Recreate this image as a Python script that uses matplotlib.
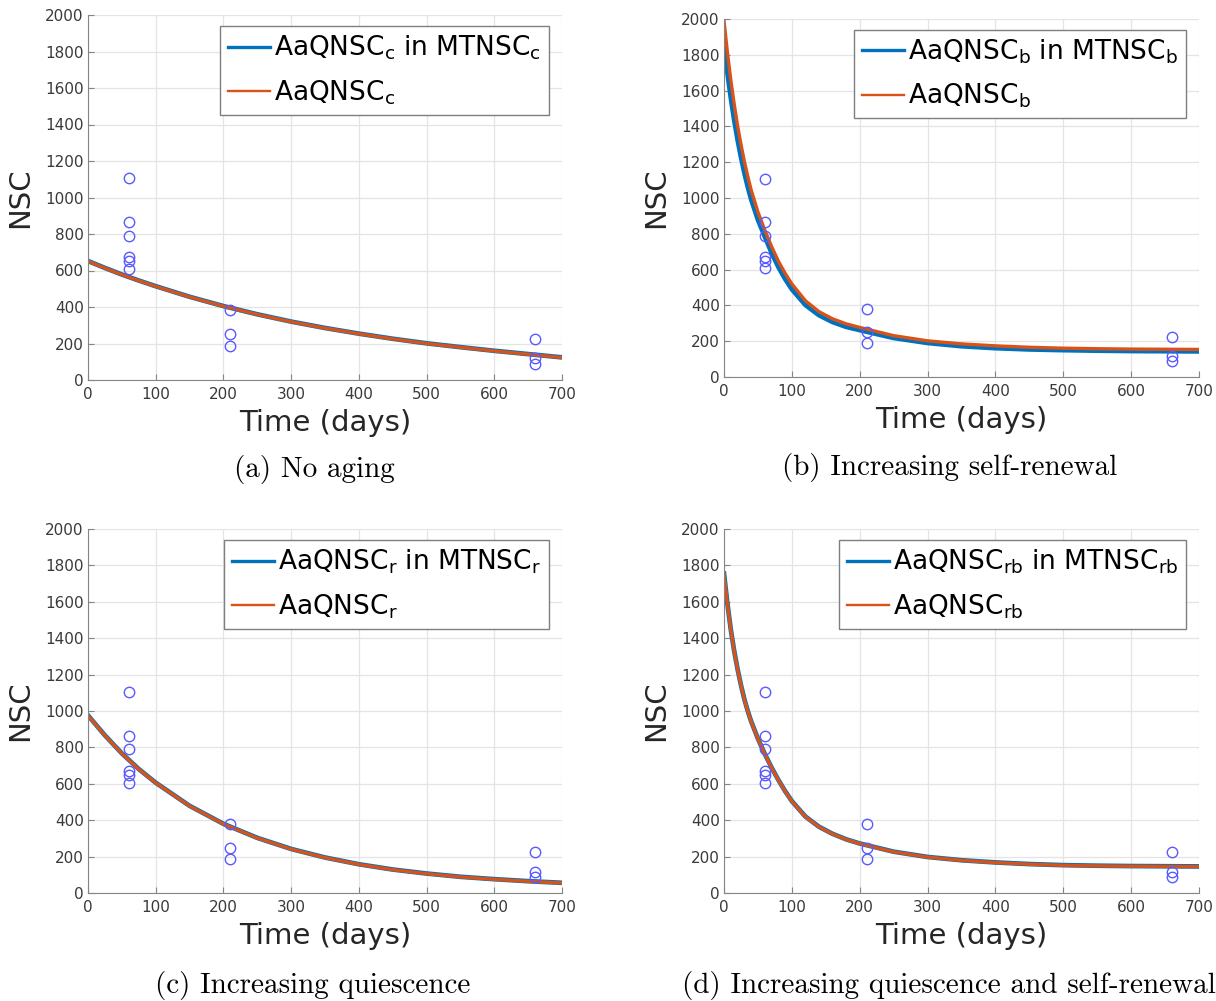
import matplotlib.pyplot as plt

plt.rcParams['font.family'] = 'DejaVu Sans'
plt.rcParams['mathtext.fontset'] = 'dejavusans'

BLUE = '#0072BD'
ORANGE = '#D95319'
DOT = '#5a5aff'

# measured cell counts (same in every panel)
obs_days = [60, 60, 60, 60, 60, 60, 210, 210, 210, 660, 660, 660]
obs_nsc = [1105, 865, 790, 672, 650, 607, 381, 250, 189, 225, 118, 89]

# (a) no aging
days_a = [0, 25, 50, 75, 100, 150, 200, 250, 300, 350, 400, 450, 500, 550, 600, 650, 700]
mt_a = [652, 614, 578, 545, 514, 456, 405, 360, 320, 285, 254, 226, 201, 180, 160, 142, 124]
aa_a = [651, 613, 577, 544, 513, 455, 404, 359, 319, 284, 253, 225, 200, 179, 159, 141, 123]

# (b) increasing self-renewal
days_b = [0, 5, 10, 15, 20, 25, 30, 35, 40, 50, 60, 70, 80, 90, 100, 120, 140, 160, 180, 200,
          250, 300, 350, 400, 450, 500, 550, 600, 650, 700]
mt_b = [1860, 1700, 1560, 1435, 1325, 1228, 1140, 1062, 992, 878, 785, 695, 615, 548, 490,
        402, 345, 307, 280, 262, 218, 190, 172, 161, 154, 150, 147, 145, 144, 143]
aa_b = [1990, 1815, 1660, 1525, 1405, 1300, 1205, 1122, 1045, 922, 822, 730, 648, 580, 520,
        426, 365, 325, 297, 277, 231, 202, 185, 174, 166, 161, 158, 156, 155, 154]

# (c) increasing quiescence
days_c = [0, 25, 50, 75, 100, 150, 200, 250, 300, 350, 400, 450, 500, 550, 600, 650, 700]
mt_c = [976, 866, 767, 681, 606, 479, 380, 303, 242, 195, 158, 129, 107, 89, 76, 65, 56]
aa_c = [975, 865, 766, 680, 605, 478, 379, 302, 241, 194, 157, 128, 106, 88, 75, 64, 55]

# (d) increasing quiescence and self-renewal
days_d = [0, 5, 10, 15, 20, 25, 30, 35, 40, 50, 60, 70, 80, 90, 100, 120, 140, 160, 180, 200,
          250, 300, 350, 400, 450, 500, 550, 600, 650, 700]
mt_d = [1755, 1590, 1448, 1330, 1230, 1142, 1065, 1000, 943, 848, 765, 690, 622, 560, 505,
        420, 364, 325, 295, 272, 227, 198, 180, 168, 159, 153, 150, 148, 147, 146]
aa_d = [1754, 1589, 1447, 1329, 1229, 1141, 1064, 999, 942, 847, 764, 689, 621, 559, 504,
        419, 363, 324, 294, 271, 226, 197, 179, 167, 158, 152, 149, 147, 146, 145]

subs = ['c', 'b', 'r', 'rb']
captions = ['(a) No aging', '(b) Increasing self-renewal',
            '(c) Increasing quiescence', '(d) Increasing quiescence and self-renewal']

W, H = 1216, 1001


def px_rect(x0, x1, ytop, ybot):
    return [x0 / W, 1 - ybot / H, (x1 - x0) / W, (ybot - ytop) / H]


def draw_panel(fig, rect, days, mt, aa, sub, caption, cap_xy):
    ax = fig.add_axes(rect)
    ax.plot(days, mt, color=BLUE, lw=3.4,
            label=rf'AaQNSC$_{{\mathregular{{{sub}}}}}$ in MTNSC$_{{\mathregular{{{sub}}}}}$')
    ax.plot(days, aa, color=ORANGE, lw=2.4,
            label=rf'AaQNSC$_{{\mathregular{{{sub}}}}}$')
    ax.plot(obs_days, obs_nsc, 'o', mfc='none', mec=DOT, ms=7.5, mew=1.0)

    ax.set_xlim(0, 700)
    ax.set_ylim(0, 2000)
    ax.set_xticks(range(0, 701, 100))
    ax.set_yticks(range(0, 2001, 200))
    ax.grid(True, color='#e4e4e4', lw=0.9)
    ax.set_axisbelow(True)
    for s in ['top', 'right']:
        ax.spines[s].set_visible(False)
    for s in ['left', 'bottom']:
        ax.spines[s].set_color('#858585')
    ax.tick_params(direction='in', length=4, color='#858585', labelsize=11,
                   labelcolor='#3a3a3a')
    ax.tick_params(axis='x', pad=5)
    ax.tick_params(axis='y', pad=3)
    ax.set_xlabel('Time (days)', fontsize=21, color='#262626', labelpad=5)
    ax.set_ylabel('NSC', fontsize=21, color='#262626', labelpad=8)

    leg = ax.legend(loc='upper right', bbox_to_anchor=(0.9726, 0.97), borderaxespad=0,
                    fontsize=19, fancybox=False, edgecolor='#7f7f7f', framealpha=1,
                    handlelength=1.6, handletextpad=0.15, borderpad=0.3, labelspacing=0.6)
    leg.get_frame().set_linewidth(1.0)
    leg.get_lines()[0].set_linewidth(2.4)
    leg.get_lines()[1].set_linewidth(1.7)

    fig.text(cap_xy[0] / W, 1 - cap_xy[1] / H, caption, family='cmr10', fontsize=21,
             ha='center', va='center')
    return ax


fig = plt.figure(figsize=(12.16, 10.01), dpi=100)

rects = [px_rect(88, 562, 15, 380), px_rect(724, 1199, 19, 377),
         px_rect(88, 562, 529, 893), px_rect(724, 1199, 529, 893)]
cap_pos = [(314, 470), (950, 467), (313, 985), (949, 985)]
curves = [(days_a, mt_a, aa_a), (days_b, mt_b, aa_b), (days_c, mt_c, aa_c), (days_d, mt_d, aa_d)]

for rect, (d, m, a), sub, cap, cp in zip(rects, curves, subs, captions, cap_pos):
    draw_panel(fig, rect, d, m, a, sub, cap, cp)

fig.savefig('out.png', dpi=100)
